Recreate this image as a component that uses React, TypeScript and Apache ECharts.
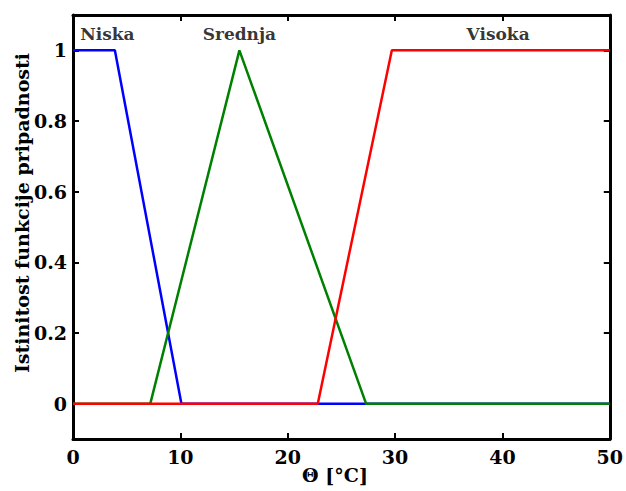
import React, { useEffect, useRef } from "react";
import * as echarts from "echarts";

const niskaX = [0, 3.9, 10.1, 50];
const niskaY = [1, 1, 0, 0];
const srednjaX = [0, 7.2, 15.5, 27.3, 50];
const srednjaY = [0, 0, 1, 0, 0];
const visokaX = [0, 22.8, 29.7, 50];
const visokaY = [0, 0, 1, 1];
const yTicks = [0, 0.2, 0.4, 0.6, 0.8, 1];
const labelNames = ["Niska", "Srednja", "Visoka"];
const labelX = [3.2, 15.5, 39.6];
const labelY = [1.047, 1.047, 1.047];

const FONT = "DejaVu Serif";

function zip(xs: number[], ys: number[]) {
  return xs.map((x, i) => [x, ys[i]]);
}

export default function App() {
  const ref = useRef<HTMLDivElement>(null);
  useEffect(() => {
    if (!ref.current) return;
    const chart = echarts.init(ref.current, undefined, { renderer: "svg" });
    const axisLine = { show: true, onZero: false, lineStyle: { color: "#000", width: 3 } };
    const axisTick = { show: true, inside: true, length: 6, lineStyle: { color: "#000", width: 2 } };
    const labelStyle = { color: "#000", fontFamily: FONT, fontWeight: "bold" as const, fontSize: 19 };
    chart.setOption({
      animation: false,
      backgroundColor: "#fff",
      grid: { left: 73, right: 14, top: 15, bottom: 52, containLabel: false },
      xAxis: [
        {
          type: "value", min: 0, max: 50, interval: 10, position: "bottom",
          axisLine, axisTick, splitLine: { show: false },
          axisLabel: { ...labelStyle, margin: 8, showMinLabel: true, showMaxLabel: true },
        },
        {
          type: "value", min: 0, max: 50, interval: 10, position: "top",
          axisLine, axisTick, splitLine: { show: false }, axisLabel: { show: false },
        },
      ],
      yAxis: [
        {
          type: "value", min: -0.1, max: 1.1, position: "left",
          axisLine, splitLine: { show: false },
          axisTick: { ...axisTick, customValues: yTicks },
          axisLabel: { ...labelStyle, margin: 6, customValues: yTicks, formatter: (v: number) => String(Math.round(v * 10) / 10) },
        },
        {
          type: "value", min: -0.1, max: 1.1, position: "right",
          axisLine, splitLine: { show: false },
          axisTick: { ...axisTick, customValues: yTicks },
          axisLabel: { show: false },
        },
      ],
      series: [
        { type: "line", data: zip(niskaX, niskaY), symbol: "none", lineStyle: { color: "#0000ff", width: 2.5 }, z: 2 },
        { type: "line", data: zip(srednjaX, srednjaY), symbol: "none", lineStyle: { color: "#008000", width: 2.5 }, z: 3 },
        { type: "line", data: zip(visokaX, visokaY), symbol: "none", lineStyle: { color: "#ff0000", width: 2.5 }, z: 4 },
        {
          type: "scatter", symbolSize: 0, z: 5,
          data: labelNames.map((n, i) => [labelX[i], labelY[i], n]),
          label: {
            show: true, position: "inside", formatter: (p: any) => p.value[2],
            color: "#000", fontFamily: FONT, fontWeight: "bold", fontSize: 17,
          },
        },
      ],
      graphic: [
        {
          type: "text", x: 22, y: 213, rotation: Math.PI / 2,
          style: { text: "Istinitost funkcije pripadnosti", fill: "#000", fontFamily: FONT, fontWeight: "bold", fontSize: 19, align: "center", verticalAlign: "middle" },
        },
        {
          type: "text", x: 335, y: 475,
          style: { text: "Θ [°C]", fill: "#000", fontFamily: FONT, fontWeight: "bold", fontSize: 19, align: "center", verticalAlign: "middle" },
        },
      ],
    });
    return () => chart.dispose();
  }, []);
  return <div ref={ref} style={{ position: "fixed", left: 0, top: 0, width: 626, height: 491 }} />;
}
